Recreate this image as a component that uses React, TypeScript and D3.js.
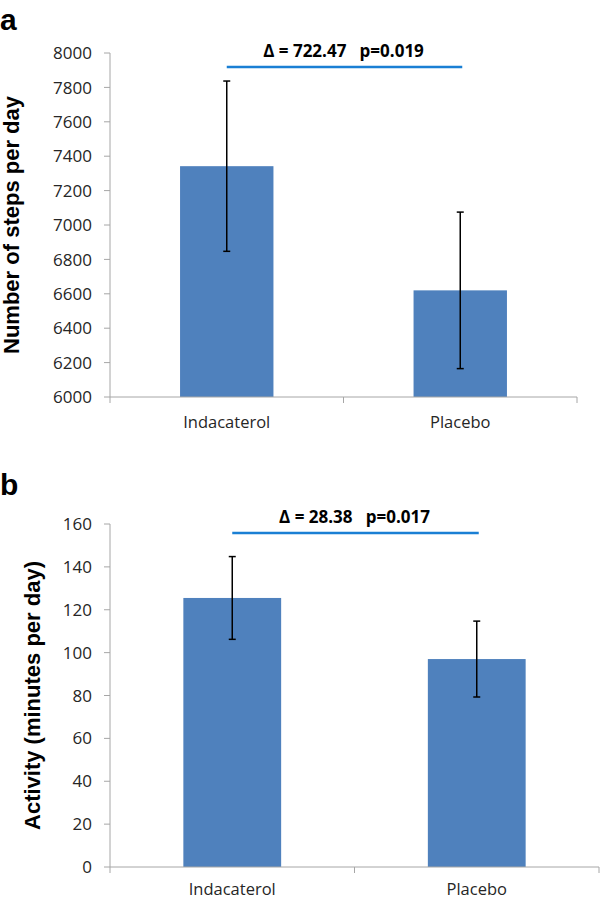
import React from "react";
import * as d3 from "d3";

const categories = ["Indacaterol", "Placebo"];

// Panel a: steps per day
const stepsMeans = [7342, 6620];
const stepsErrors = [495, 455];
const stepsTicks = [6000, 6200, 6400, 6600, 6800, 7000, 7200, 7400, 7600, 7800, 8000];
const stepsLabel = "Δ = 722.47   p=0.019";

// Panel b: activity minutes per day
const activityMeans = [125.5, 97.0];
const activityErrors = [19.3, 17.7];
const activityTicks = [0, 20, 40, 60, 80, 100, 120, 140, 160];
const activityLabel = "Δ = 28.38   p=0.017";

const BAR = "#4f81bd";
const AXIS = "#a6a6a6";
const TXT = "#262626";
const DELTA = "#1a7fd4";
const tickFont = "'Open Sans', 'DejaVu Sans', sans-serif";
const boldFont = "'Liberation Sans', Arial, sans-serif";

type PanelProps = {
  letter: string;
  letterY: number;
  means: number[];
  errors: number[];
  ticks: number[];
  domain: [number, number];
  yTop: number;
  yBottom: number;
  xLeft: number;
  xRight: number;
  yTitle: string;
  yTitleX: number;
  deltaText: string;
  deltaLineY: number;
  catOffset: number;
};

function Panel(p: PanelProps) {
  const x = d3.scaleBand<string>().domain(categories).range([p.xLeft, p.xRight]).paddingInner(0.6).paddingOuter(0.3);
  const band = d3.scaleBand<string>().domain(categories).range([p.xLeft, p.xRight]);
  const y = d3.scaleLinear().domain(p.domain).range([p.yBottom, p.yTop]);
  const cx = (c: string) => (band(c) as number) + band.bandwidth() / 2;
  const c0 = cx(categories[0]);
  const c1 = cx(categories[1]);
  const yMid = (p.yTop + p.yBottom) / 2;
  return (
    <g>
      <text x={0} y={p.letterY} fontFamily={boldFont} fontWeight="bold" fontSize={30} fill="#000">{p.letter}</text>
      {/* y axis */}
      <line x1={p.xLeft} x2={p.xLeft} y1={p.yTop} y2={p.yBottom} stroke={AXIS} strokeWidth={1} />
      {p.ticks.map((t) => (
        <g key={t}>
          <line x1={p.xLeft - 6} x2={p.xLeft} y1={y(t)} y2={y(t)} stroke={AXIS} strokeWidth={1} />
          <text x={p.xLeft - 18} y={y(t)} dy="0.36em" textAnchor="end" fontFamily={tickFont} fontSize={17} fill={TXT}>{t}</text>
        </g>
      ))}
      <text
        transform={`translate(${p.yTitleX},${yMid}) rotate(-90)`}
        textAnchor="middle"
        fontFamily={boldFont}
        fontWeight="bold"
        fontSize={22}
        fill="#000"
      >{p.yTitle}</text>
      {/* bars */}
      {categories.map((c, i) => (
        <rect key={c} x={x(c)} width={x.bandwidth()} y={y(p.means[i])} height={y(p.domain[0]) - y(p.means[i])} fill={BAR} />
      ))}
      {/* x axis */}
      <line x1={p.xLeft} x2={p.xRight} y1={p.yBottom} y2={p.yBottom} stroke={AXIS} strokeWidth={1} />
      {[p.xLeft, ...categories.map((c) => (band(c) as number) + band.bandwidth())].map((tx, i) => (
        <line key={i} x1={tx} x2={tx} y1={p.yBottom} y2={p.yBottom + 6} stroke={AXIS} strokeWidth={1} />
      ))}
      {categories.map((c) => (
        <text key={c} x={cx(c)} y={p.yBottom + p.catOffset} textAnchor="middle" fontFamily={tickFont} fontSize={16.5} fill={TXT}>{c}</text>
      ))}
      {/* error bars */}
      {categories.map((c, i) => {
        const hi = y(p.means[i] + p.errors[i]);
        const lo = y(p.means[i] - p.errors[i]);
        const ex = cx(c);
        return (
          <g key={c} stroke="#000" strokeWidth={1.5}>
            <line x1={ex} x2={ex} y1={hi} y2={lo} />
            <line x1={ex - 3.5} x2={ex + 3.5} y1={hi} y2={hi} />
            <line x1={ex - 3.5} x2={ex + 3.5} y1={lo} y2={lo} />
          </g>
        );
      })}
      {/* delta */}
      <line x1={c0} x2={c1 + 2} y1={p.deltaLineY} y2={p.deltaLineY} stroke={DELTA} strokeWidth={2.5} />
      <text
        x={(c0 + c1) / 2}
        y={p.deltaLineY - 10}
        textAnchor="middle"
        fontFamily={tickFont}
        fontWeight="bold"
        fontSize={17}
        fill="#000"
        style={{ whiteSpace: "pre" }}
      >{p.deltaText}</text>
    </g>
  );
}

export default function App() {
  return (
    <div style={{ position: "absolute", left: 0, top: 0 }}>
      <svg width={600} height={899} style={{ display: "block", background: "#fff" }}>
        <rect width={600} height={899} fill="#fff" />
        <Panel
          letter="a"
          letterY={30}
          means={stepsMeans}
          errors={stepsErrors}
          ticks={stepsTicks}
          domain={[6000, 8000]}
          yTop={53}
          yBottom={397}
          xLeft={110}
          xRight={577}
          yTitle="Number of steps per day"
          yTitleX={19}
          deltaText={stepsLabel}
          deltaLineY={67}
          catOffset={31}
        />
        <Panel
          letter="b"
          letterY={495}
          means={activityMeans}
          errors={activityErrors}
          ticks={activityTicks}
          domain={[0, 160]}
          yTop={524}
          yBottom={867}
          xLeft={110}
          xRight={599}
          yTitle="Activity (minutes per day)"
          yTitleX={40}
          deltaText={activityLabel}
          deltaLineY={533}
          catOffset={28}
        />
      </svg>
    </div>
  );
}
